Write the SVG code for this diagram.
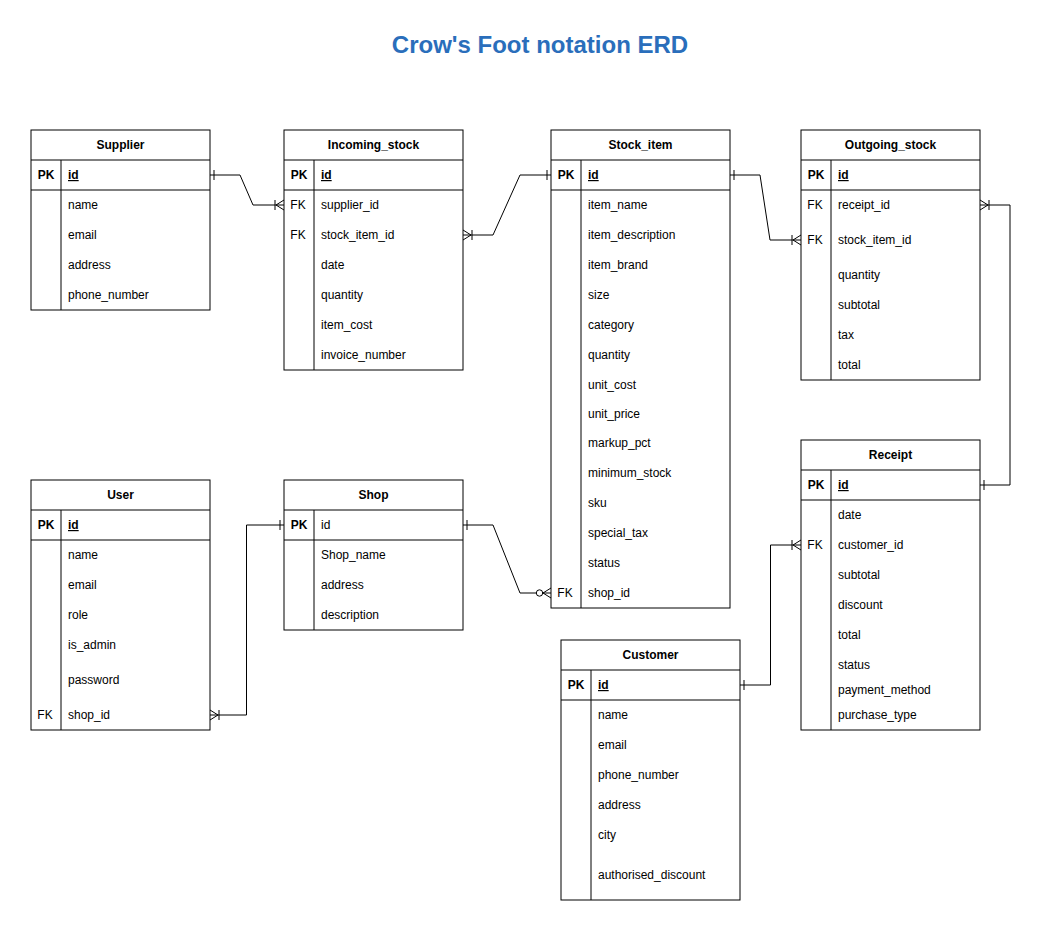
<svg xmlns="http://www.w3.org/2000/svg" width="1051" height="931" viewBox="0 0 1051 931">
<style>
.box{fill:#fff;stroke:#000;stroke-width:1}
.ln{stroke:#000;stroke-width:1;fill:none}
text{font-family:"Liberation Sans",Arial,Helvetica,sans-serif;font-size:12px;fill:#000}
.h{font-weight:bold;text-anchor:middle}
.k{font-weight:bold;text-anchor:middle}
.pk{font-weight:bold;text-decoration:underline}
.title{font-size:24px;font-weight:bold;fill:#2a6ebb;text-anchor:middle}
.c{stroke:#000;stroke-width:1;fill:none}
</style>
<defs>
<marker id="one" viewBox="-12 -8 14 16" markerWidth="14" markerHeight="16" refX="0" refY="0" markerUnits="userSpaceOnUse" orient="auto-start-reverse">
<path d="M-4,-5 L-4,5" stroke="#000" stroke-width="1" fill="none"/>
</marker>
<marker id="many" viewBox="-12 -8 14 16" markerWidth="14" markerHeight="16" refX="0" refY="0" markerUnits="userSpaceOnUse" orient="auto-start-reverse">
<path d="M0,-5 L-8,0 L0,5 M-9,-5 L-9,5" stroke="#000" stroke-width="1" fill="none"/>
</marker>
<marker id="zmany" viewBox="-18 -8 20 16" markerWidth="20" markerHeight="16" refX="0" refY="0" markerUnits="userSpaceOnUse" orient="auto-start-reverse">
<path d="M0,-5 L-8,0 L0,5" stroke="#000" stroke-width="1" fill="none"/>
<circle cx="-11.5" cy="0" r="3.2" fill="#fff" stroke="#000" stroke-width="1"/>
</marker>
</defs>
<rect width="1051" height="931" fill="#fff"/>
<text class="title" x="540" y="53">Crow's Foot notation ERD</text>

<g id="supplier">
<rect class="box" x="31" y="130" width="179" height="180"/>
<path class="ln" d="M31,160 H210 M31,190 H210 M61,160 V310"/>
<text class="h" x="120.5" y="149">Supplier</text>
<text class="k" x="46" y="179">PK</text><text class="pk" x="68" y="179">id</text>
<text x="68" y="209">name</text>
<text x="68" y="239">email</text>
<text x="68" y="269">address</text>
<text x="68" y="299">phone_number</text>
</g>

<g id="incoming_stock">
<rect class="box" x="284" y="130" width="179" height="240"/>
<path class="ln" d="M284,160 H463 M284,190 H463 M314,160 V370"/>
<text class="h" x="373.5" y="149">Incoming_stock</text>
<text class="k" x="299" y="179">PK</text><text class="pk" x="321" y="179">id</text>
<text class="k" x="298" y="209" style="font-weight:normal">FK</text><text x="321" y="209">supplier_id</text>
<text class="k" x="298" y="239" style="font-weight:normal">FK</text><text x="321" y="239">stock_item_id</text>
<text x="321" y="269">date</text>
<text x="321" y="299">quantity</text>
<text x="321" y="329">item_cost</text>
<text x="321" y="359">invoice_number</text>
</g>

<g id="stock_item">
<rect class="box" x="551" y="130" width="179" height="478"/>
<path class="ln" d="M551,160 H730 M551,190 H730 M581,160 V608"/>
<text class="h" x="640.5" y="149">Stock_item</text>
<text class="k" x="566" y="179">PK</text><text class="pk" x="588" y="179">id</text>
<text x="588" y="209">item_name</text>
<text x="588" y="239">item_description</text>
<text x="588" y="269">item_brand</text>
<text x="588" y="299">size</text>
<text x="588" y="329">category</text>
<text x="588" y="359">quantity</text>
<text x="588" y="389">unit_cost</text>
<text x="588" y="418">unit_price</text>
<text x="588" y="447">markup_pct</text>
<text x="588" y="477">minimum_stock</text>
<text x="588" y="507">sku</text>
<text x="588" y="537">special_tax</text>
<text x="588" y="567">status</text>
<text class="k" x="565" y="597" style="font-weight:normal">FK</text><text x="588" y="597">shop_id</text>
</g>

<g id="outgoing_stock">
<rect class="box" x="801" y="130" width="179" height="250"/>
<path class="ln" d="M801,160 H980 M801,190 H980 M831,160 V380"/>
<text class="h" x="890.5" y="149">Outgoing_stock</text>
<text class="k" x="816" y="179">PK</text><text class="pk" x="838" y="179">id</text>
<text class="k" x="815" y="209" style="font-weight:normal">FK</text><text x="838" y="209">receipt_id</text>
<text class="k" x="815" y="244" style="font-weight:normal">FK</text><text x="838" y="244">stock_item_id</text>
<text x="838" y="279">quantity</text>
<text x="838" y="309">subtotal</text>
<text x="838" y="339">tax</text>
<text x="838" y="369">total</text>
</g>

<g id="receipt">
<rect class="box" x="801" y="440" width="179" height="290"/>
<path class="ln" d="M801,470 H980 M801,500 H980 M831,470 V730"/>
<text class="h" x="890.5" y="459">Receipt</text>
<text class="k" x="816" y="489">PK</text><text class="pk" x="838" y="489">id</text>
<text x="838" y="519">date</text>
<text class="k" x="815" y="549" style="font-weight:normal">FK</text><text x="838" y="549">customer_id</text>
<text x="838" y="579">subtotal</text>
<text x="838" y="609">discount</text>
<text x="838" y="639">total</text>
<text x="838" y="669">status</text>
<text x="838" y="694">payment_method</text>
<text x="838" y="719">purchase_type</text>
</g>

<g id="user">
<rect class="box" x="31" y="480" width="179" height="250"/>
<path class="ln" d="M31,510 H210 M31,540 H210 M61,510 V730"/>
<text class="h" x="120.5" y="499">User</text>
<text class="k" x="46" y="529">PK</text><text class="pk" x="68" y="529">id</text>
<text x="68" y="559">name</text>
<text x="68" y="589">email</text>
<text x="68" y="619">role</text>
<text x="68" y="649">is_admin</text>
<text x="68" y="684">password</text>
<text class="k" x="45" y="719" style="font-weight:normal">FK</text><text x="68" y="719">shop_id</text>
</g>

<g id="shop">
<rect class="box" x="284" y="480" width="179" height="150"/>
<path class="ln" d="M284,510 H463 M284,540 H463 M314,510 V630"/>
<text class="h" x="373.5" y="499">Shop</text>
<text class="k" x="299" y="529">PK</text><text x="321" y="529">id</text>
<text x="321" y="559">Shop_name</text>
<text x="321" y="589">address</text>
<text x="321" y="619">description</text>
</g>

<g id="customer">
<rect class="box" x="561" y="640" width="179" height="260"/>
<path class="ln" d="M561,670 H740 M561,700 H740 M591,670 V900"/>
<text class="h" x="650.5" y="659">Customer</text>
<text class="k" x="576" y="689">PK</text><text class="pk" x="598" y="689">id</text>
<text x="598" y="719">name</text>
<text x="598" y="749">email</text>
<text x="598" y="779">phone_number</text>
<text x="598" y="809">address</text>
<text x="598" y="839">city</text>
<text x="598" y="879">authorised_discount</text>
</g>

<g id="connectors">
<path class="c" d="M210,175 H240 L253,205 H284" marker-start="url(#one)" marker-end="url(#many)"/>
<path class="c" d="M463,235 H493 L520,175 H551" marker-start="url(#many)" marker-end="url(#one)"/>
<path class="c" d="M730,175 H760 L770,240 H801" marker-start="url(#one)" marker-end="url(#many)"/>
<path class="c" d="M980,485 H1010 V205 H980" marker-start="url(#one)" marker-end="url(#many)"/>
<path class="c" d="M210,715 H246.5 V525 H284" marker-start="url(#many)" marker-end="url(#one)"/>
<path class="c" d="M463,525 H493 L520,593 H551" marker-start="url(#one)" marker-end="url(#zmany)"/>
<path class="c" d="M740,685 H770.5 V545 H801" marker-start="url(#one)" marker-end="url(#many)"/>
</g>
</svg>
